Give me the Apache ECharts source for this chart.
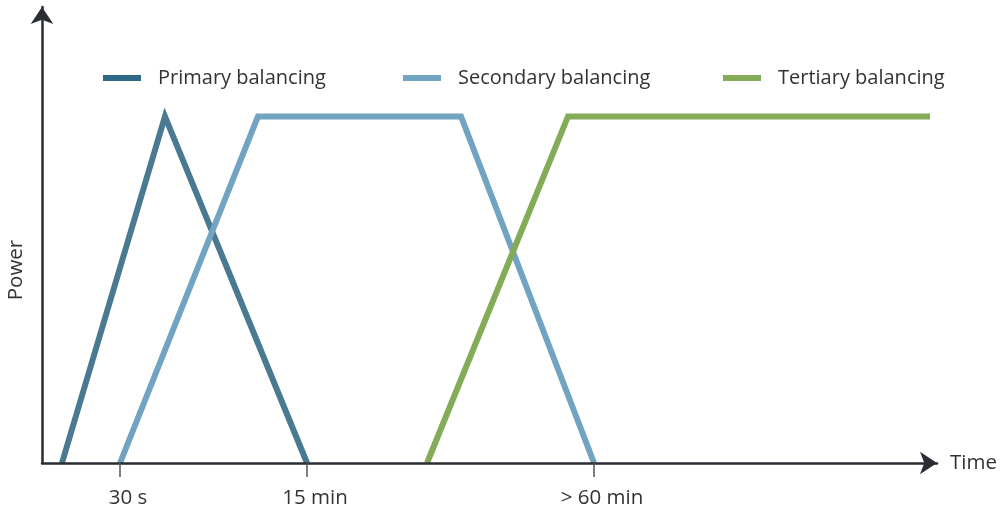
<!DOCTYPE html>
<html>
<head>
<meta charset="utf-8">
<script src="https://cdn.jsdelivr.net/npm/echarts@6/dist/echarts.min.js"></script>
<style>
  html, body { margin: 0; padding: 0; background: #fff; }
  #chart { width: 1001px; height: 512px; }
</style>
</head>
<body>
<div id="chart"></div>
<script>
// x in arbitrary time units (0..100), y as share of power (0..100)
const primaryX = [2.23, 13.74, 29.61];
const primaryY = [0, 76, 0];
const secondaryX = [8.72, 24.13, 46.82, 61.68];
const secondaryY = [0, 76, 76, 0];
const tertiaryX = [43.02, 58.77, 99.22];
const tertiaryY = [0, 76, 76];
const tickValues = [8.72, 29.61, 61.68];
const tickLabels = ['30 s', '15 min', '> 60 min'];

const zip = (xs, ys) => xs.map((x, i) => [x, ys[i]]);
const FONT = 'Open Sans';

const myChart = echarts.init(document.getElementById('chart'));

const legendBase = (name, left, color) => ({
  data: [{ name, itemStyle: { color } }],
  left,
  top: 63,
  icon: 'rect',
  itemWidth: 38,
  itemHeight: 6,
  selectedMode: false,
  textStyle: { fontFamily: FONT, fontSize: 20, color: '#333', padding: [0, 0, 0, 12] },
});

const lineSeries = (name, data, color) => ({
  name,
  type: 'line',
  data,
  symbol: 'none',
  silent: true,
  lineStyle: { color, width: 6, join: 'miter', cap: 'butt' },
  itemStyle: { color },
  z: 1,
});

myChart.setOption({
  animation: false,
  grid: { left: 42, right: 64, top: 7, bottom: 49, outerBoundsMode: 'none' },
  legend: [
    legendBase('Primary balancing', 98, '#2e6a88'),
    legendBase('Secondary balancing', 398, '#72a3c0'),
    legendBase('Tertiary balancing', 718, '#84ab57'),
  ],
  xAxis: {
    type: 'value',
    min: 0,
    max: 100,
    name: 'Time',
    nameLocation: 'end',
    nameGap: 13,
    nameTextStyle: { fontFamily: FONT, fontSize: 20.5, color: '#333', verticalAlign: 'middle', padding: [6, 0, 0, 0] },
    axisLine: {
      show: true,
      symbol: ['none', 'arrow'],
      symbolSize: [17, 17],
      lineStyle: { color: '#2a2d34', width: 2.5 },
    },
    axisTick: {
      show: true,
      length: 14,
      customValues: tickValues,
      lineStyle: { color: '#555', width: 1.5 },
    },
    axisLabel: {
      show: true,
      margin: 25,
      padding: [0, 0, 0, 16],
      customValues: tickValues,
      fontFamily: FONT,
      fontSize: 20.5,
      color: '#333',
      formatter: (v) => {
        const i = tickValues.findIndex((t) => Math.abs(t - v) < 0.01);
        return i >= 0 ? tickLabels[i] : '';
      },
    },
    splitLine: { show: false },
    z: 5,
  },
  yAxis: {
    type: 'value',
    min: 0,
    max: 100,
    name: 'Power',
    nameLocation: 'middle',
    nameRotate: 90,
    nameGap: 15,
    nameTextStyle: { fontFamily: FONT, fontSize: 20.5, color: '#333', padding: [0, 70, 0, 0] },
    axisLine: {
      show: true,
      symbol: ['none', 'arrow'],
      symbolSize: [17, 17],
      lineStyle: { color: '#2a2d34', width: 2.5 },
    },
    axisTick: { show: false },
    axisLabel: { show: false },
    splitLine: { show: false },
    z: 5,
  },
  series: [
    lineSeries('Primary balancing', zip(primaryX, primaryY), '#4a7a91'),
    lineSeries('Secondary balancing', zip(secondaryX, secondaryY), '#72a3c0'),
    lineSeries('Tertiary balancing', zip(tertiaryX, tertiaryY), '#84ab57'),
  ],
});
</script>
</body>
</html>
